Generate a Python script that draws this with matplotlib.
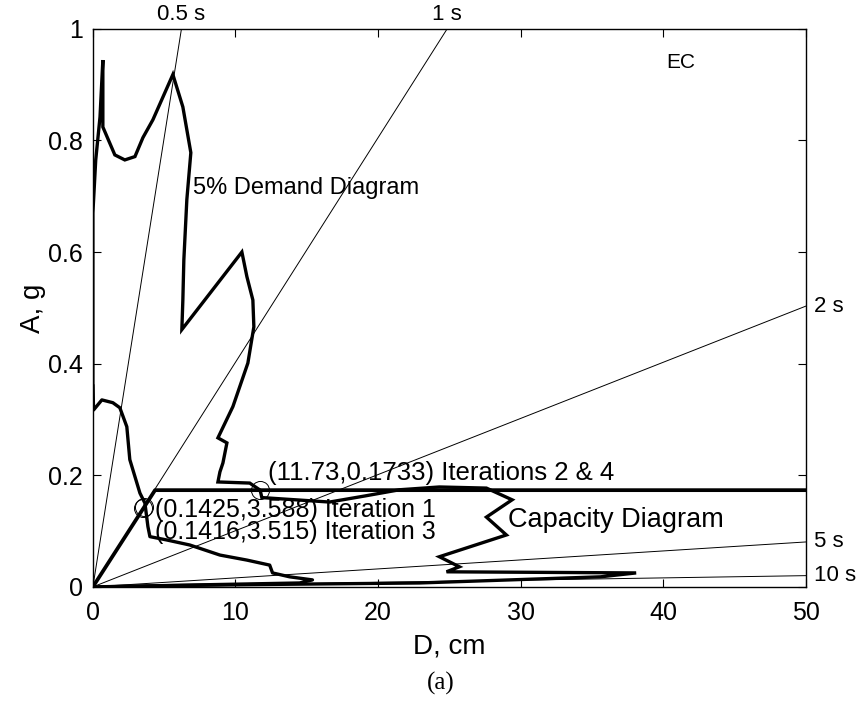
import numpy as np
import matplotlib.pyplot as plt

plt.rcParams['font.family'] = ['Liberation Sans', 'DejaVu Sans']

# 5% damped elastic demand diagram (D in cm, A in g)
demand_d = [0.0, 0.0, 0.0, 0.2, 0.5, 0.7, 0.7, 1.54, 2.24, 2.95, 3.51, 4.21, 5.61,
            6.31, 6.87, 6.59, 6.38, 6.31, 6.24, 10.45, 10.8, 11.22, 11.29, 10.87,
            9.82, 8.77, 9.40, 9.12, 8.91, 8.77, 11.0, 11.73, 11.85, 16.6, 19.1,
            21.5, 24.3, 27.6, 29.4, 27.6, 29.0, 24.3, 25.7, 24.8, 38.1, 35.6,
            22.9, 11.0, 4.7, 0.0]
demand_a = [0.33, 0.514, 0.67, 0.765, 0.842, 0.944, 0.824, 0.774, 0.765, 0.771, 0.805,
            0.837, 0.918, 0.860, 0.778, 0.694, 0.586, 0.514, 0.461, 0.600, 0.556,
            0.514, 0.466, 0.401, 0.323, 0.267, 0.258, 0.222, 0.206, 0.188, 0.186,
            0.1733, 0.160, 0.152, 0.163, 0.174, 0.179, 0.177, 0.156, 0.125, 0.093,
            0.054, 0.036, 0.027, 0.025, 0.018, 0.007, 0.004, 0.002, 0.0]

# reduced (inelastic) demand diagram
inel_d = [0.0, 0.05, 0.63, 1.40, 1.89, 2.38, 2.59, 3.30, 3.65, 3.86, 4.0, 5.19, 6.80,
          8.91, 10.8, 12.4, 12.6, 13.8, 15.4, 14.5, 7.5, 0.5]
inel_a = [0.36, 0.317, 0.335, 0.330, 0.321, 0.287, 0.228, 0.168, 0.150, 0.108, 0.090,
          0.084, 0.075, 0.057, 0.048, 0.039, 0.025, 0.018, 0.0125, 0.007, 0.0036, 0.0]

# bilinear capacity diagram
cap_d = [0.0, 4.36, 50.0]
cap_a = [0.0, 0.1733, 0.1733]

# constant-period radial lines
periods = [0.5, 1, 2, 5, 10]
period_labels = ['0.5 s', '1 s', '2 s', '5 s', '10 s']

# performance points from the iterations
iter_d = [3.588, 3.515, 11.73]
iter_a = [0.1425, 0.1416, 0.1733]

fig = plt.figure(figsize=(8.6, 7.02), dpi=100)
ax = fig.add_axes([0.108, 0.164, 0.829, 0.795])

for T, lab in zip(periods, period_labels):
    slope = (2 * np.pi / T) ** 2 / 981.0  # g per cm
    ax.plot([0, 50], [0, slope * 50], color='black', lw=0.7)
    if slope * 50 > 1:
        ax.text(1 / slope, 1.006, lab, ha='center', va='bottom', fontsize=16)
    else:
        ax.text(50.6, slope * 50, lab, ha='left', va='center', fontsize=16,
                clip_on=False)

ax.plot(demand_d, demand_a, color='black', lw=2.4, solid_joinstyle='miter')
ax.plot(inel_d, inel_a, color='black', lw=2.4)
ax.plot(cap_d, cap_a, color='black', lw=2.7)
ax.plot(iter_d, iter_a, 'o', mfc='none', mec='black', ms=13, mew=0.7)

ax.text(7.0, 0.715, '5% Demand Diagram', fontsize=17, va='center')
ax.text(29.1, 0.12, 'Capacity Diagram', fontsize=19.5, va='center')
ax.text(12.3, 0.204, '(11.73,0.1733) Iterations 2 & 4', fontsize=18.5, va='center')
ax.text(4.35, 0.138, '(0.1425,3.588) Iteration 1', fontsize=18, va='center')
ax.text(4.35, 0.099, '(0.1416,3.515) Iteration 3', fontsize=18, va='center')
ax.text(40.2, 0.939, 'EC', fontsize=15, va='center')

ax.set_xlim(0, 50)
ax.set_ylim(0, 1)
ax.set_xticks([0, 10, 20, 30, 40, 50])
ax.set_yticks([0, 0.2, 0.4, 0.6, 0.8, 1])
ax.set_yticklabels(['0', '0.2', '0.4', '0.6', '0.8', '1'])
ax.tick_params(direction='in', top=True, right=True, length=6, width=0.8,
               labelsize=18)
ax.tick_params(axis='x', pad=10)
ax.tick_params(axis='y', pad=7)
for s in ax.spines.values():
    s.set_linewidth(1.0)

ax.set_xlabel('D, cm', fontsize=20, labelpad=6)
ax.set_ylabel('A, g', fontsize=20, labelpad=2)
fig.text(0.512, 0.027, '(a)', fontsize=18, ha='center', va='center',
         family='Liberation Serif')

fig.savefig('out.png', dpi=100)
